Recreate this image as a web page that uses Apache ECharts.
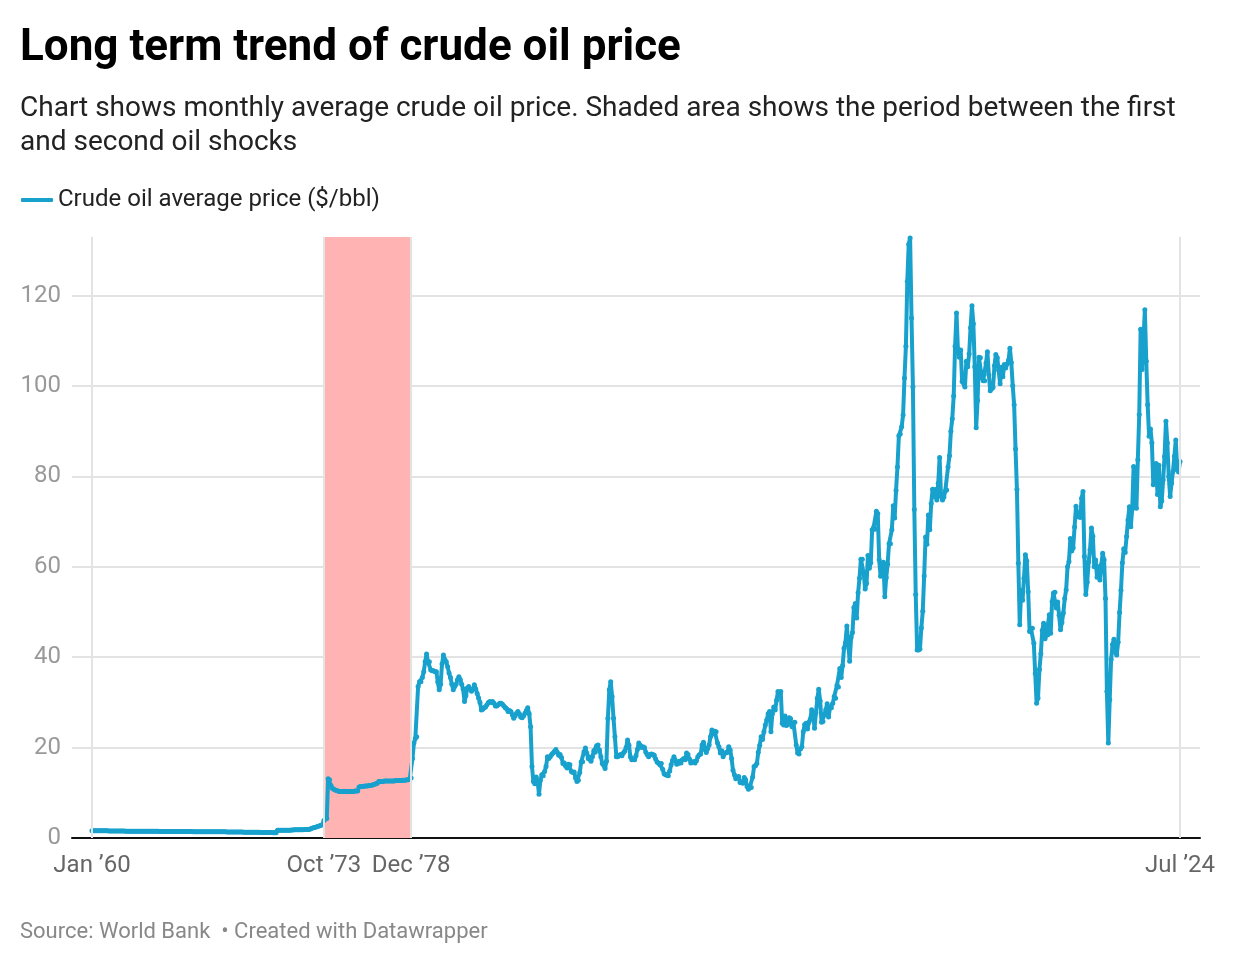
<!DOCTYPE html>
<html lang="en">
<head>
  <meta charset="UTF-8" />
  <title>Long term trend of crude oil price</title>
  <script src="https://cdn.jsdelivr.net/npm/echarts@6/dist/echarts.min.js"></script>
  <style>
    body { margin: 0; padding: 0; background: #fff; }
    #main { width: 1240px; height: 964px; }
  </style>
</head>
<body>
  <div id="main"></div>
  <script>
    // monthly average crude oil price, $/bbl, one row per year, Jan 1960 .. Jul 2024
    const price1960s = [
      1.63,1.63,1.63,1.63,1.63,1.63,1.63,1.63,1.63,1.63,1.63,1.63,
      1.57,1.57,1.57,1.57,1.57,1.57,1.57,1.57,1.57,1.57,1.57,1.57,
      1.52,1.52,1.52,1.52,1.52,1.52,1.52,1.52,1.52,1.52,1.52,1.52,
      1.50,1.50,1.50,1.50,1.50,1.50,1.50,1.50,1.50,1.50,1.50,1.50,
      1.45,1.45,1.45,1.45,1.45,1.45,1.45,1.45,1.45,1.45,1.45,1.45,
      1.45,1.45,1.45,1.45,1.45,1.45,1.45,1.45,1.45,1.45,1.45,1.45,
      1.41,1.41,1.41,1.41,1.41,1.41,1.41,1.41,1.41,1.41,1.41,1.41,
      1.36,1.36,1.36,1.36,1.36,1.36,1.36,1.36,1.36,1.36,1.36,1.36,
      1.32,1.32,1.32,1.32,1.32,1.32,1.32,1.32,1.32,1.32,1.32,1.32,
      1.27,1.27,1.27,1.27,1.27,1.27,1.27,1.27,1.27,1.27,1.27,1.27
    ];
    const price1970s = [
      1.21,1.21,1.21,1.20,1.20,1.20,1.19,1.19,1.19,1.18,1.18,1.18,
      1.70,1.70,1.70,1.70,1.70,1.70,1.72,1.72,1.72,1.72,1.75,1.75,
      1.80,1.80,1.82,1.82,1.82,1.84,1.84,1.86,1.86,1.88,1.90,1.95,
      2.10,2.20,2.30,2.40,2.50,2.60,2.70,2.80,3.00,3.90,4.20,4.30,
      13.1,12.9,11.6,11.0,10.8,10.6,10.5,10.4,10.3,10.3,10.3,10.3,
      10.3,10.3,10.3,10.3,10.3,10.3,10.3,10.4,10.4,10.4,11.3,11.4,
      11.4,11.4,11.5,11.5,11.5,11.6,11.6,11.7,11.8,11.9,12.0,12.1,
      12.5,12.5,12.5,12.5,12.6,12.6,12.6,12.6,12.6,12.6,12.6,12.6,
      12.7,12.7,12.7,12.7,12.7,12.8,12.8,12.8,12.9,12.9,13.0,13.3,
      17.6,21.0,22.0,22.4,33.5,34.6,34.6,35.5,36.8,39.0,40.7,39.0
    ];
    const price1980s = [
      39.0,37.2,37.0,37.0,36.8,36.8,34.5,32.8,34.0,38.5,40.5,39.5,
      39.0,37.9,36.5,35.5,34.0,32.8,33.5,34.0,35.0,35.7,35.0,34.0,
      33.0,30.2,31.5,33.2,33.5,33.0,32.5,33.0,33.9,33.0,32.0,31.0,
      30.0,28.3,28.5,28.8,29.0,29.5,30.0,30.2,30.0,30.2,29.8,29.2,
      29.2,29.5,29.8,29.8,29.6,29.2,28.8,28.6,28.0,28.2,28.0,27.3,
      26.5,27.0,27.6,28.0,27.5,26.8,26.6,27.0,27.6,28.2,28.8,27.5,
      24.6,15.8,12.5,12.0,13.5,12.5,9.7,12.8,14.0,13.8,14.7,15.8,
      18.0,17.6,18.0,18.5,18.8,19.2,19.6,19.0,18.3,18.5,17.8,16.5,
      16.6,15.9,15.5,16.3,16.2,14.7,14.5,14.6,13.3,12.5,12.8,14.5,
      16.8,16.9,19.1,19.9,18.8,17.6,17.9,17.0,18.0,19.3,19.0,20.4
    ];
    const price1990s = [
      20.6,19.5,18.0,16.5,16.2,15.4,17.0,26.5,32.8,34.6,31.3,26.5,
      22.4,18.0,18.0,18.3,18.5,18.2,18.8,19.2,20.0,21.7,20.5,18.0,
      17.3,17.5,17.3,18.2,19.6,21.0,20.5,20.0,20.2,20.0,19.0,18.4,
      18.0,18.5,18.6,18.5,18.3,17.5,16.8,16.6,16.2,16.5,15.2,14.2,
      14.0,13.9,13.8,14.8,16.2,17.2,18.0,17.2,16.3,16.5,17.0,16.6,
      17.3,17.6,17.3,18.8,18.5,17.5,16.6,16.8,16.9,16.6,17.1,18.0,
      18.4,18.6,20.6,21.2,19.6,18.9,19.8,20.6,22.4,23.9,23.0,23.6,
      23.5,21.0,20.2,18.8,19.3,18.0,18.7,18.9,18.9,20.2,19.5,17.6,
      15.0,14.0,13.1,13.4,13.6,12.3,12.4,12.1,13.4,12.9,11.4,10.8,
      11.3,11.2,13.5,15.8,16.0,16.5,19.0,20.5,22.4,21.8,23.5,25.0
    ];
    const price2000s = [
      26.1,27.5,28.0,23.5,27.5,29.0,28.3,30.5,32.4,31.5,32.4,25.4,
      25.0,27.0,24.9,25.1,26.6,26.4,24.6,25.5,25.6,20.6,18.8,18.6,
      19.7,20.2,23.5,25.1,25.4,24.1,25.6,26.3,28.4,27.5,24.3,27.7,
      30.9,32.9,30.4,25.6,25.8,27.2,28.4,29.7,26.8,28.8,28.8,29.8,
      31.3,30.9,33.8,33.4,37.5,35.5,38.2,42.0,43.2,46.9,43.1,39.1,
      44.3,45.5,51.0,51.9,48.7,54.3,57.5,61.7,61.7,58.5,55.1,56.3,
      62.5,59.7,60.9,68.2,68.7,68.3,72.3,71.8,61.6,57.9,58.1,61.0,
      53.4,57.6,60.6,65.1,65.1,68.2,73.5,70.8,76.9,82.1,89.0,89.4,
      91.0,93.6,101.8,108.8,123.2,131.4,132.8,115.1,99.8,72.7,53.9,41.6,
      41.6,41.8,46.5,50.2,58.0,66.6,65.0,71.5,68.2,74.0,77.2,75.6
    ];
    const price2010s = [
      77.1,74.8,78.5,84.2,75.6,74.8,75.4,76.8,77.0,82.1,84.6,90.0,
      92.8,97.8,108.8,116.2,108.2,106.4,108.0,101.0,101.0,99.8,105.5,104.3,
      107.1,112.9,117.8,113.8,104.3,90.8,96.8,106.4,106.3,101.8,101.2,101.2,
      105.1,107.6,102.5,99.0,99.4,99.7,104.5,107.0,106.3,103.5,100.5,104.2,
      102.1,104.8,104.0,104.9,105.7,108.4,105.2,100.1,95.9,86.1,77.1,60.8,
      47.2,54.8,52.6,57.5,62.7,61.3,54.5,45.7,46.3,46.4,43.1,36.4,
      29.8,31.0,37.3,40.8,45.9,47.5,44.1,44.9,45.0,49.4,45.3,52.3,
      54.2,54.4,50.9,52.2,49.3,46.1,47.7,49.8,53.0,54.9,60.0,61.2,
      66.3,63.5,64.2,68.8,73.4,71.1,71.8,70.9,75.2,76.7,62.3,53.9,
      56.6,61.1,63.8,68.6,66.8,60.0,61.5,57.7,60.0,57.1,60.4,63.0
    ];
    const price2020s = [
      61.6,53.0,32.4,21.0,30.6,39.5,42.8,44.0,41.1,40.5,43.3,49.9,
      54.8,60.9,64.0,63.2,66.7,70.4,73.3,68.9,72.8,82.2,79.2,73.0,
      83.7,93.7,112.6,103.7,110.1,116.9,105.5,95.9,88.9,90.5,87.4,78.2,
      80.4,82.9,76.0,82.5,73.3,74.6,79.2,84.4,92.2,87.4,80.0,75.6,
      78.5,81.1,84.5,88.1,81.5,81.0,83.3
    ];

    // months counted from Jan 1960
    const tickMonths = [0, 165, 227, 774];
    const tickLabels = ['Jan ’60', 'Oct ’73', 'Dec ’78', 'Jul ’24'];
    const shockStart = 165; // Oct 1973
    const shockEnd = 227;   // Dec 1978

    const prices = [].concat(price1960s, price1970s, price1980s, price1990s,
                             price2000s, price2010s, price2020s);
    const seriesName = 'Crude oil average price ($/bbl)';
    const blue = '#18a1cd';
    const grey = '#e3e3e3';

    const chart = echarts.init(document.getElementById('main'));
    chart.setOption({
      animation: false,
      textStyle: { fontFamily: 'Roboto' },
      title: [
        {
          text: 'Long term trend of crude oil price',
          left: 20, top: 27, padding: 0,
          textStyle: { fontSize: 44, fontWeight: 'bold', color: '#000', fontFamily: 'Roboto' }
        },
        {
          text: 'Chart shows monthly average crude oil price. Shaded area shows the period between the first\nand second oil shocks',
          left: 20, top: 92, padding: 0,
          textStyle: { fontSize: 28, fontWeight: 'normal', color: '#222', lineHeight: 34, fontFamily: 'Roboto' }
        },
        {
          text: 'Source: World Bank  • Created with Datawrapper',
          left: 20, top: 921, padding: 0,
          textStyle: { fontSize: 22, fontWeight: 'normal', color: '#888', fontFamily: 'Roboto' }
        }
      ],
      legend: {
        data: [seriesName],
        left: 16, top: 183,
        icon: 'roundRect',
        itemWidth: 32, itemHeight: 4,
        textStyle: { fontSize: 24, color: '#222', fontFamily: 'Roboto' }
      },
      grid: { left: 72, right: 40, top: 237, bottom: 126 },
      xAxis: {
        type: 'value',
        min: -14.23,
        max: 788.23,
        splitLine: { show: false },
        axisTick: { show: false },
        axisLine: { lineStyle: { color: '#111', width: 2 } },
        axisLabel: {
          customValues: tickMonths,
          formatter: v => tickLabels[tickMonths.indexOf(Math.round(v))] || '',
          fontSize: 24, color: '#666', margin: 16
        }
      },
      yAxis: {
        type: 'value',
        min: 0, max: 133, interval: 20,
        axisLine: { show: false },
        axisTick: { show: false },
        axisLabel: { fontSize: 24, color: '#999', margin: 11, showMaxLabel: false },
        splitLine: { showMaxLine: false, lineStyle: { color: grey, width: 2 } }
      },
      series: [
        {
          name: 'shock band',
          type: 'line',
          data: [],
          z: -1,
          silent: true,
          markArea: {
            silent: true,
            itemStyle: { color: '#ffb3b3' },
            data: [[{ xAxis: shockStart }, { xAxis: shockEnd }]]
          }
        },
        {
          name: 'vertical lines',
          type: 'line',
          data: [],
          z: 1,
          silent: true,
          markLine: {
            silent: true,
            symbol: 'none',
            label: { show: false },
            lineStyle: { color: grey, width: 2, type: 'solid' },
            data: tickMonths.map(m => ({ xAxis: m }))
          }
        },
        {
          name: seriesName,
          type: 'line',
          data: prices.map((v, i) => [i, v]),
          z: 3,
          color: blue,
          symbol: 'circle',
          symbolSize: 5,
          showAllSymbol: true,
          itemStyle: { color: blue },
          lineStyle: { width: 4, color: blue }
        }
      ]
    });
  </script>
</body>
</html>
